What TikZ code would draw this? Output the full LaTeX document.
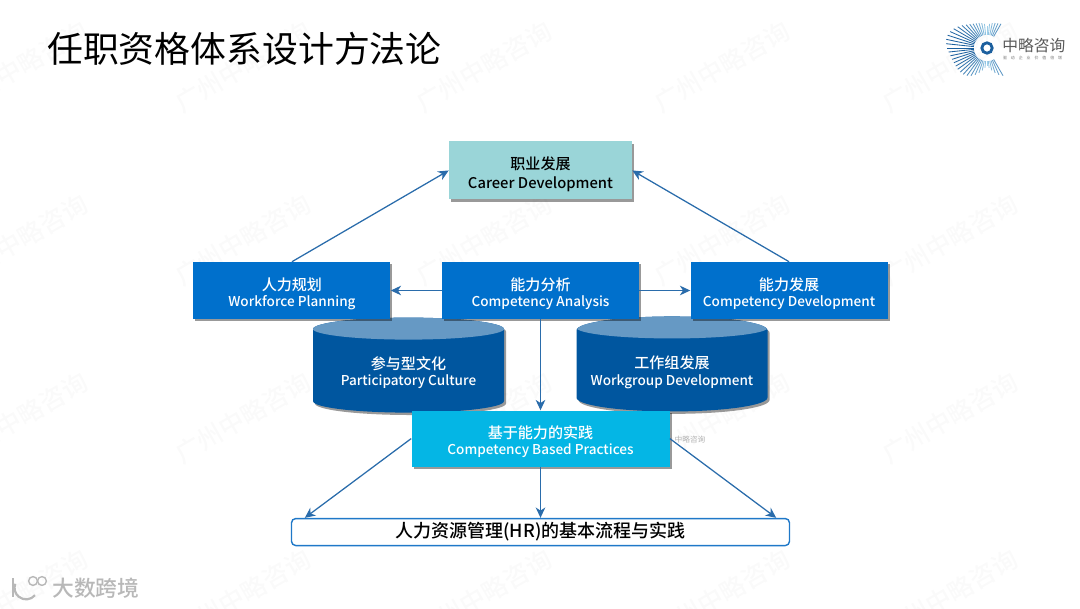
\documentclass[tikz,border=0pt]{standalone}
\usepackage{fontspec}
\setmainfont{Noto Sans CJK SC Medium}
\newfontfamily\logofont{Noto Sans CJK SC}
\newfontfamily\logosmall{Noto Sans CJK SC}[LetterSpace=100]
\usepackage{xcolor}
\usepackage{tikz}
\usetikzlibrary{shapes.geometric,arrows.meta,positioning,calc,shadows}

\definecolor{boxblue}{HTML}{0070CC}
\definecolor{boxteal}{HTML}{9AD5D8}
\definecolor{boxcyan}{HTML}{04B6E5}
\definecolor{cylbody}{HTML}{00569F}
\definecolor{cyltop}{HTML}{6699C4}
\definecolor{arrowblue}{HTML}{2A6CAB}
\definecolor{hrblue}{HTML}{1F78C8}
\definecolor{logodark}{HTML}{1B5F9E}
\definecolor{logosky}{HTML}{9FD0EA}

% two-line label: Chinese above, smaller English below
\newcommand{\duo}[3][13.5pt]{\rule{0pt}{#1}#2\\{\fontsize{9.65}{11.5}\selectfont #3}}

\begin{document}
\begin{tikzpicture}[
    boxshade/.style={drop shadow={shadow xshift=0.05cm, shadow yshift=-0.06cm, opacity=0.4, fill=black}},
    block/.style={rectangle, minimum width=4.925cm, minimum height=1.425cm, inner sep=0pt, align=center, fill=boxblue, text=white, boxshade, font=\fontsize{10.7}{11.5}\selectfont},
    store/.style={cylinder, shape border rotate=90, aspect=0.17, minimum width=4.775cm, minimum height=2.375cm, inner sep=0pt, align=center, fill=cylbody, text=white, boxshade, font=\fontsize{10.7}{11.5}\selectfont,
        path picture={\fill[cyltop] ([yshift=-0.275cm]path picture bounding box.north) ellipse (2.4cm and 0.275cm);}},
    arr/.style={-{Stealth[length=2.6mm, width=2.4mm, inset=0.8mm]}, line width=0.9pt, color=arrowblue},
    wmark/.style={rotate=30, text=black!2, font=\fontsize{18}{18}\selectfont},
    node distance=1.275cm
]
    \useasboundingbox (0,0) rectangle (27,15.2);

    % Watermark behind everything
    \foreach \wx in {0.5,6.075,12.1,18.05,23.75}
        \foreach \wy in {13.525,9.2,4.75,0.325}
            \node[wmark] at (\wx,\wy) {广州中略咨询};

    % Title
    \node[anchor=west, inner sep=0pt, font=\logofont\fontsize{25.5}{26}\selectfont] (title) at (1.175,13.98) {任职资格体系设计方法论};

    % Logo
    \foreach \ang in {60,66,...,300} {
        \pgfmathsetmacro{\rlen}{0.5+0.5*abs(cos(\ang))+0.06*sin(5*\ang)}
        \pgfmathsetmacro{\mixval}{100*abs(cos(\ang))}
        \draw[color=logodark!\mixval!logosky, line width=0.6pt] (24.675,14)++(\ang:0.33) -- ++(\ang:\rlen-0.33);
    }
    \node[circle, draw=logodark, line width=2pt, fill=white, minimum size=0.26cm, inner sep=0pt] (logoring) at (24.675,14) {};
    \node[anchor=west, inner sep=0pt, text=black!65, font=\logofont\fontsize{11.2}{12}\selectfont] (logoname) at (25.05,14.05) {中略咨询};
    \node[anchor=west, inner sep=0pt, text=black!55, font=\logosmall\fontsize{2.8}{3}\selectfont] (logosub) at (25.07,13.75) {驱动企业价值倍增};

    % Cylinders sit under the boxes
    \node[store] (culture) at (10.2125,5.925) {\duo[11pt]{参与型文化}{Participatory Culture}};
    \node[store] (workgroup) at (16.8,5.925) {\duo[11pt]{工作组发展}{Workgroup Development}};

    % Middle row
    \node[block] (analysis) at (13.5125,7.9375) {\duo{能力分析}{Competency Analysis}};
    \node[block, left=of analysis] (planning) {\duo{人力规划}{Workforce Planning}};
    \node[block, right=of analysis] (growth) {\duo{能力发展}{Competency Development}};

    % Career on top
    \node[block, fill=boxteal, text=black, minimum width=4.575cm, minimum height=1.45cm, above=1.55cm of analysis] (career) {\rule{0pt}{14.5pt}职业发展\\[1.5pt]{\fontsize{10.5}{12}\selectfont Career Development}};

    % Practices and HR base
    \node[block, fill=boxcyan, minimum width=6.45cm, minimum height=1.4cm, below=2.275cm of analysis] (practices) {\duo{基于能力的实践}{Competency Based Practices}};
    \node[rectangle, draw=hrblue, line width=1pt, rounded corners=3pt, fill=white, minimum width=12.45cm, minimum height=0.675cm, inner sep=0pt, font=\fontsize{12.8}{14}\selectfont, below=of practices] (hr) {人力资源管理(HR)的基本流程与实践};

    % Stamps
    \node[inner sep=0pt, text=black!30, font=\logofont\fontsize{5.5}{6}\selectfont] (stamp) at (17.25,4.2) {中略咨询};
    \node[inner sep=0pt, anchor=west, text=black!28, font=\fontsize{15.5}{16}\selectfont] (brand) at (1.3,0.5) {大数跨境};
    \node[circle, draw=black!28, line width=1pt, minimum size=0.22cm, inner sep=0pt] (brandA) at (0.825,0.675) {};
    \node[circle, draw=black!28, line width=1pt, minimum size=0.22cm, inner sep=0pt] (brandB) at (1.05,0.675) {};
    \draw[black!28, line width=1.6pt] (0.33,0.75) -- (0.33,0.275);
    \draw[black!28, line width=1.6pt] (0.875,0.32) arc (-40:-200:0.29);

    % Connections
    \draw[arr] (planning.north) -- (career.west);
    \draw[arr] (growth.north) -- (career.east);
    \draw[arr] (analysis) -- (planning);
    \draw[arr] (analysis) -- (growth);
    \draw[arr] (analysis) -- (practices);
    \draw[arr] (practices) -- (hr);
    \draw[arr] (practices.west) -- ($(hr.north west)+(0.35,0)$);
    \draw[arr] (practices.east) -- ($(hr.north east)+(-0.35,0)$);

\end{tikzpicture}
\end{document}
